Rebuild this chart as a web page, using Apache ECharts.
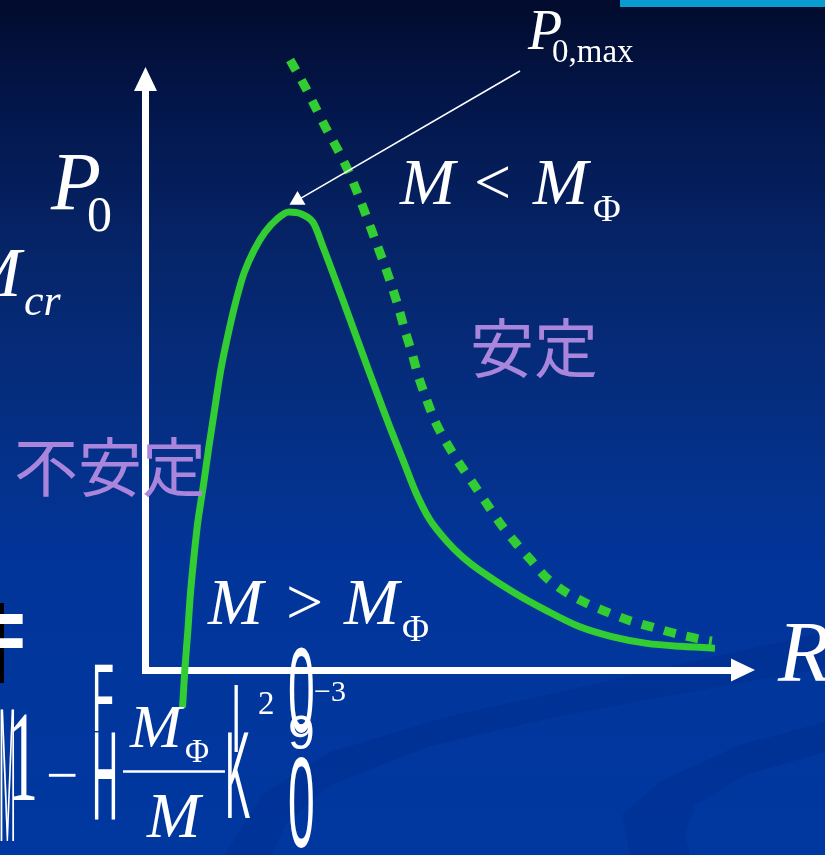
<!DOCTYPE html>
<html>
<head>
<meta charset="utf-8">
<script src="https://cdn.jsdelivr.net/npm/echarts@6/dist/echarts.min.js"></script>
<style>
  html, body { margin: 0; padding: 0; background: #0038a0; }
  #chart { width: 825px; height: 855px; }
</style>
</head>
<body>
<div id="chart"></div>
<script>
// Load P0 against R: the P0(R) curve and the stability boundary.
const solidR = [0.62, 0.66, 0.71, 0.75, 0.805, 0.875, 0.97, 1.06, 1.16, 1.26, 1.38, 1.51, 1.65, 1.82, 2.00, 2.20,
                2.40, 2.60, 2.80, 2.97, 3.19, 3.42, 3.64, 3.87, 4.09, 4.33, 4.53, 4.76, 5.05, 5.31, 5.60,
                6.15, 6.72, 7.27, 7.82, 8.39, 8.95, 9.53];
const solidP = [-0.63, 0.03, 0.68, 1.27, 1.86, 2.50, 3.13, 3.77, 4.43, 5.08, 5.67, 6.23, 6.72, 7.11, 7.41, 7.63,
                7.75, 7.72, 7.58, 7.16, 6.57, 5.94, 5.33, 4.70, 4.11, 3.50, 2.99, 2.54, 2.17, 1.91, 1.68,
                1.32, 1.00, 0.73, 0.56, 0.45, 0.40, 0.37];

const boundR = [2.42, 2.67, 2.85, 3.03, 3.23, 3.41, 3.56, 3.70, 3.84, 3.98, 4.11, 4.23, 4.34, 4.46, 4.57, 4.70,
                4.85, 5.04, 5.25, 5.48, 5.70, 5.93, 6.18, 6.45, 6.71, 7.03, 7.38, 7.75, 8.12, 8.50, 8.89, 9.29, 9.48];
const boundP = [10.32, 9.87, 9.51, 9.15, 8.78, 8.41, 8.04, 7.67, 7.29, 6.91, 6.53, 6.15, 5.75, 5.36, 4.96, 4.59,
                4.20, 3.84, 3.50, 3.16, 2.83, 2.49, 2.17, 1.86, 1.56, 1.32, 1.13, 0.97, 0.83, 0.72, 0.61, 0.52, 0.49];

// pointer to the maximum P0,max (head centre in data units, tail anchored under the label)
const peakPointerHead = [2.51, 7.93];
const peakPointerTail = { x: 520, y: 71 };

const axisMin = 0;
const axisMax = 10;

const solidData = solidR.map((r, i) => [r, solidP[i]]);
const boundData = boundR.map((r, i) => [r, boundP[i]]);

const GREEN = '#32cd32';
const WHITE = '#ffffff';
const LILAC = '#a986dc';
const SERIF = '"Liberation Serif", "Times New Roman", serif';
const SANS = '"Liberation Sans", Arial, sans-serif';
const CJK = '"Noto Sans CJK JP", "Noto Sans CJK SC", sans-serif';

// text placed by its baseline; k = distance from the middle line to the baseline (em)
function txt(s, x, base, size, opt) {
  opt = opt || {};
  const sy = opt.sy || 1;
  const k = opt.k == null ? 0.285 : opt.k;
  const style = {
    text: s,
    x: 0, y: 0,
    fill: opt.color || WHITE,
    font: (opt.italic ? 'italic ' : '') + (opt.bold ? 'bold ' : '') + size + 'px ' + (opt.family || SERIF),
    align: 'left',
    verticalAlign: 'middle'
  };
  if (opt.shadow) {
    style.textShadowColor = opt.shadow;
    style.textShadowOffsetX = 3;
    style.textShadowOffsetY = 3;
    style.textShadowBlur = 0;
  }
  return {
    type: 'text', x: x, y: base - k * size * sy,
    scaleX: opt.sx || 1, scaleY: sy,
    z: 20, silent: true, style: style
  };
}
function cjk(s, x, cy, size) {
  return {
    type: 'text', x: x, y: cy, z: 20, silent: true,
    style: { text: s, x: 0, y: 0, fill: LILAC, font: size + 'px ' + CJK, align: 'left', verticalAlign: 'middle' }
  };
}

const graphics = [
  // slide decorations
  { type: 'polygon', z: -5, silent: true,
    shape: { points: [[225, 855], [262, 795], [330, 752], [450, 716], [560, 692], [700, 660], [825, 632],
                      [825, 668], [700, 690], [560, 716], [430, 746], [330, 785], [285, 825], [272, 855]] },
    style: { fill: 'rgba(0, 25, 110, 0.15)' } },
  { type: 'polygon', z: -5, silent: true,
    shape: { points: [[630, 855], [622, 815], [660, 782], [740, 745], [825, 722],
                      [825, 752], [745, 775], [695, 805], [685, 835], [690, 855]] },
    style: { fill: 'rgba(0, 25, 110, 0.15)' } },
  { type: 'rect', z: 5, silent: true, shape: { x: 620, y: 0, width: 205, height: 7 }, style: { fill: '#0a9bd0' } },

  // axis titles and regime labels
  txt('P', 51, 211, 82, { italic: true }),
  txt('0', 87, 232, 50),
  txt('M', -37, 298, 70, { italic: true }),
  txt('cr', 24, 316, 44, { italic: true }),
  txt('P', 528, 50, 56, { italic: true }),
  txt('0,max', 552, 63, 33),
  txt('M', 400, 205, 66, { italic: true }),
  txt('<', 474, 205, 66),
  txt('M', 533, 205, 66, { italic: true }),
  txt('\u03A6', 593, 222, 38),
  txt('M', 208, 625, 66, { italic: true }),
  txt('>', 286, 625, 66),
  txt('M', 344, 625, 66, { italic: true }),
  txt('\u03A6', 402, 642, 37),
  txt('R', 778, 683, 86, { italic: true }),
  cjk('安定', 470, 348, 64),
  cjk('不安定', 14, 467, 64),

  // partly hidden formula behind the plot
  { type: 'rect', z: 19, silent: true, shape: { x: 0, y: 603, width: 4, height: 80 }, style: { fill: '#000000' } },
  txt('=', -10, 667, 60, { family: SANS, bold: true, sy: 1.5, k: 0.34, shadow: '#000000' }),
  txt('M', -1, 853, 20, { family: SANS, sy: 9.6, k: 0.34 }),
  txt('1', 8, 803, 60, { sy: 2.17 }),
  txt('\u2212', 46, 795, 57),
  txt('F', 92, 737, 36, { family: SANS, sy: 2.67, k: 0.34 }),
  txt('H', 92, 827, 36, { family: SANS, sy: 3.49, k: 0.34 }),
  txt('M', 130, 748, 62, { italic: true }),
  txt('\u03A6', 185, 763, 33),
  { type: 'rect', z: 20, silent: true, shape: { x: 123, y: 770.3, width: 102, height: 2.5 }, style: { fill: WHITE } },
  txt('M', 147, 838, 64, { italic: true }),
  txt('|', 231, 742, 40, { family: SANS, sy: 1.8, k: 0.34 }),
  txt('K', 225, 826, 38, { family: SANS, sy: 3.27, k: 0.34 }),
  txt('2', 258, 715, 33),
  txt('0', 288, 740, 48, { family: SANS, sy: 2.5, k: 0.34 }),
  txt('9', 288, 752, 48, { family: SANS, sy: 1.0, k: 0.34 }),
  txt('0', 288, 855, 48, { family: SANS, sy: 2.65, k: 0.34 }),
  txt('\u22123', 314, 702, 30)
];

const axisCommon = {
  type: 'value',
  min: axisMin,
  max: axisMax,
  axisLine: {
    show: true,
    symbol: ['none', 'triangle'],
    symbolSize: [23, 24],
    lineStyle: { color: WHITE, width: 7, cap: 'square' }
  },
  axisTick: { show: false },
  axisLabel: { show: false },
  splitLine: { show: false }
};

const option = {
  animation: false,
  backgroundColor: {
    type: 'linear', x: 0, y: 0, x2: 0, y2: 1,
    colorStops: [
      { offset: 0, color: '#020b2c' },
      { offset: 0.12, color: '#03164a' },
      { offset: 0.3, color: '#06256a' },
      { offset: 0.5, color: '#052f84' },
      { offset: 0.66, color: '#02359a' },
      { offset: 1, color: '#0038a0' }
    ]
  },
  grid: { left: 145.5, top: 79, right: 82, bottom: 185 },
  xAxis: axisCommon,
  yAxis: axisCommon,
  graphic: graphics,
  series: [
    {
      type: 'line',
      data: solidData,
      smooth: 0.3,
      showSymbol: false,
      clip: false,
      silent: true,
      z: 3,
      lineStyle: { color: GREEN, width: 7, cap: 'butt' },
      markLine: {
        silent: true,
        animation: false,
        symbol: ['none', 'triangle'],
        label: { show: false },
        lineStyle: { color: WHITE, width: 1.6, type: 'solid' },
        emphasis: { disabled: true },
        data: [[
          { x: peakPointerTail.x, y: peakPointerTail.y, symbol: 'none' },
          { coord: peakPointerHead, symbol: 'triangle', symbolSize: [16, 14] }
        ]]
      }
    },
    {
      type: 'line',
      data: boundData,
      smooth: 0.3,
      showSymbol: false,
      clip: false,
      silent: true,
      z: 3,
      lineStyle: { color: GREEN, width: 9, type: [12, 11], cap: 'butt' }
    }
  ]
};

const chart = echarts.init(document.getElementById('chart'), null, { renderer: 'canvas' });
chart.setOption(option);
</script>
</body>
</html>
